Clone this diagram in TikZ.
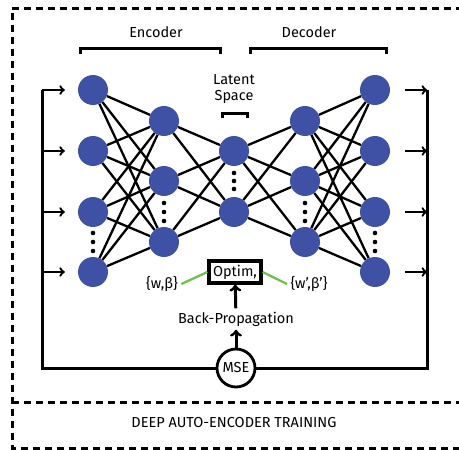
\documentclass[tikz,border=0pt]{standalone}
\usepackage{fontspec}
\setmainfont{Fira Sans}
\definecolor{nblue}{RGB}{63,81,165}
\definecolor{wgreen}{RGB}{110,192,80}

\begin{document}
\begin{tikzpicture}[x=1pt,y=-1pt,font=\fontsize{14.5}{17}\selectfont]
	\tikzset{neuron/.style={circle,fill=nblue,minimum size=30pt,inner sep=0pt}}
	\tikzset{edge/.style={line width=2.3pt}}
	\tikzset{bus/.style={line width=3pt}}
	\tikzset{frame/.style={line width=3pt,dash pattern=on 7pt off 5pt}}
	\useasboundingbox (0,0) rectangle (459,450);
	% outer frame
	\draw[frame] (475,8) -- (12,8) -- (12,448) -- (475,448);
	\draw[frame] (12,402) -- (475,402);
	\node (title) at (234,423) {DEEP AUTO-ENCODER TRAINING};
	% layers
	\foreach \i/\y in {1/90,2/151,3/212,4/272} \node[neuron] (a\i) at (93,\y) {};
	\foreach \i/\y in {1/121,2/181,3/242} \node[neuron] (b\i) at (164,\y) {};
	\foreach \i/\y in {1/151,2/212} \node[neuron] (c\i) at (234,\y) {};
	\foreach \i/\y in {1/121,2/181,3/242} \node[neuron] (d\i) at (305,\y) {};
	\foreach \i/\y in {1/90,2/151,3/212,4/272} \node[neuron] (e\i) at (375,\y) {};
	\foreach \i in {1,...,4} \foreach \j in {1,2,3} \draw[edge] (a\i) -- (b\j);
	\foreach \i in {1,2,3} \foreach \j in {1,2} \draw[edge] (b\i) -- (c\j);
	\foreach \i in {1,2} \foreach \j in {1,2,3} \draw[edge] (c\i) -- (d\j);
	\foreach \i in {1,2,3} \foreach \j in {1,...,4} \draw[edge] (d\i) -- (e\j);
	% dots
	\foreach \x/\y in {93/233,93/242,93/251,375/233,375/242,375/251,164/203,164/212,164/221,305/203,305/212,305/221,234/173,234/181,234/189}
		\fill (\x,\y) circle (2.3);
	% brackets
	\draw[bus] (80,54) -- (80,48) -- (220,48) -- (220,54);
	\draw[bus] (250,54) -- (250,48) -- (386,48) -- (386,54);
	\draw[bus] (222,118) -- (222,113) -- (247,113) -- (247,118);
	\node (enc) at (156,32) {Encoder};
	\node (dec) at (309,32) {Decoder};
	\node[align=center,inner sep=0pt] (lat) at (234,89) {Latent\\[-1pt]Space};
	% inputs and outputs
	\foreach \i/\y in {1/90,2/151,3/212,4/272} {
		\coordinate (l\i) at (42,\y);
		\coordinate (r\i) at (427,\y);
		\draw[edge,->] (l\i) -- (a\i) [shorten >=13pt];
		\draw[edge,->] (e\i) -- (r\i) [shorten <=15pt];
	}
	\node[draw,circle,line width=2.8pt,minimum size=38pt,inner sep=0pt,fill=white] (mse) at (236,368) {MSE};
	\draw[bus] (l1) -- (42,368) -- (mse);
	\draw[bus] (r1) -- (427,368) -- (mse);
	% optimisation
	\node (bp) at (236,319) {Back-Propagation};
	\node[draw,line width=3.2pt,minimum width=52pt,minimum height=22pt,inner sep=1pt] (opt) at (235,272) {Optim,};
	\node (wb) at (162,284) {\{w,β\}};
	\node (wb2) at (309,284) {\{w',β'\}};
	\draw[bus,->] (mse) -- (bp);
	\draw[bus,->] (bp) -- (opt);
	\draw[wgreen,line width=2.3pt] (wb.east) -- (opt.west);
	\draw[wgreen,line width=2.3pt] (opt.east) -- (wb2.west);
\end{tikzpicture}
\end{document}
